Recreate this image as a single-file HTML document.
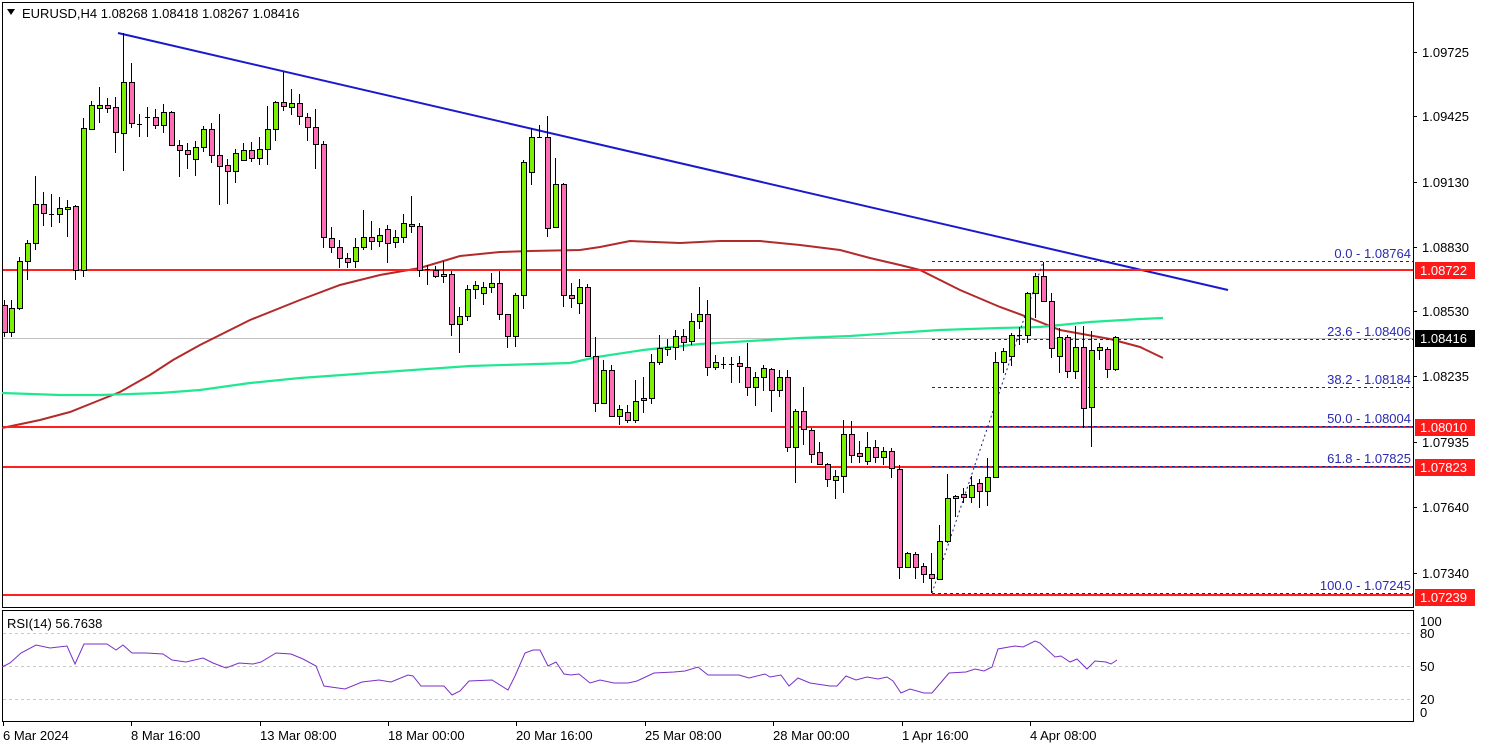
<!DOCTYPE html>
<html><head><meta charset="utf-8"><style>
html,body{margin:0;padding:0;background:#fff;}
svg{display:block;font-family:"Liberation Sans",Tahoma,sans-serif;}
</style></head><body>
<svg id="s" width="1485" height="749" xmlns="http://www.w3.org/2000/svg">
<rect x="0" y="0" width="1485" height="749" fill="#fff"/>
<!-- main frame -->
<rect x="2.5" y="2.5" width="1411" height="605" fill="none" stroke="#000" stroke-width="1"/>
<rect x="2.5" y="610.5" width="1411" height="111" fill="none" stroke="#000" stroke-width="1"/>
<!-- header -->
<polygon points="7,9 15,9 11,15" fill="#000"/>
<text x="22" y="18" font-size="13" fill="#000">EURUSD,H4  1.08268 1.08418 1.08267 1.08416</text>
<!-- current price gray line -->
<line x1="3" y1="338.5" x2="1413" y2="338.5" stroke="#c0c0c0" stroke-width="1"/>
<!-- MAs -->
<polyline fill="none" stroke="#b22a2a" stroke-width="2" points="2,428 40,420 70,412 100,400 120,392 150,375 173,360 200,345 250,320 300,300 340,285 380,275 420,268 460,256 500,252 530,251 580,250 600,247 630,241 680,243 720,241 760,241 800,245 840,250 870,258 900,265 920,270 960,290 1000,307 1030,318 1060,330 1110,339 1140,347 1163,358"/>
<polyline fill="none" stroke="#20e890" stroke-width="2.2" points="2,393 60,395 100,395 160,393 200,390 250,383 300,378 370,373 470,366 570,363 597,357 643,350 700,344 750,341 800,338 850,336 940,330 1000,328 1040,327 1090,322 1140,319 1163,318"/>
<!-- trend line -->
<line x1="118" y1="33" x2="1228" y2="290" stroke="#1a1acc" stroke-width="2"/>
<!-- horizontal red levels -->
<g stroke="#ff2020" stroke-width="2">
<line x1="3" y1="270" x2="1413" y2="270"/>
<line x1="3" y1="427" x2="1413" y2="427"/>
<line x1="3" y1="467" x2="1413" y2="467"/>
<line x1="3" y1="595" x2="1413" y2="595"/>
</g>
<!-- fib -->
<g stroke="#20208a" stroke-width="1" stroke-dasharray="3,3">
<line x1="932" y1="261.5" x2="1413" y2="261.5"/>
<line x1="932" y1="339.5" x2="1413" y2="339.5"/>
<line x1="932" y1="387.5" x2="1413" y2="387.5"/>
<line x1="932" y1="426.5" x2="1413" y2="426.5"/>
<line x1="932" y1="466.5" x2="1413" y2="466.5"/>
<line x1="932" y1="593.5" x2="1413" y2="593.5"/>
<line x1="932" y1="593" x2="1043" y2="262" stroke-dasharray="2,3"/>
</g>
<g font-size="13" fill="#2a2ab0" text-anchor="end">
<text x="1411" y="258">0.0 - 1.08764</text>
<text x="1411" y="336">23.6 - 1.08406</text>
<text x="1411" y="384">38.2 - 1.08184</text>
<text x="1411" y="423">50.0 - 1.08004</text>
<text x="1411" y="463">61.8 - 1.07825</text>
<text x="1411" y="590">100.0 - 1.07245</text>
</g>
<g id="candles"></g>
<!-- right axis -->
<g stroke="#000" stroke-width="1">
<line x1="1413" y1="52.5" x2="1417" y2="52.5"/><line x1="1413" y1="116.5" x2="1417" y2="116.5"/>
<line x1="1413" y1="182.5" x2="1417" y2="182.5"/><line x1="1413" y1="247.5" x2="1417" y2="247.5"/>
<line x1="1413" y1="311.5" x2="1417" y2="311.5"/><line x1="1413" y1="376.5" x2="1417" y2="376.5"/>
<line x1="1413" y1="442.5" x2="1417" y2="442.5"/><line x1="1413" y1="507.5" x2="1417" y2="507.5"/>
<line x1="1413" y1="573.5" x2="1417" y2="573.5"/>
</g>
<g font-size="13" fill="#000">
<text x="1422" y="57">1.09725</text><text x="1422" y="121">1.09425</text>
<text x="1422" y="187">1.09130</text><text x="1422" y="252">1.08830</text>
<text x="1422" y="316">1.08530</text><text x="1422" y="381">1.08235</text>
<text x="1422" y="447">1.07935</text><text x="1422" y="512">1.07640</text>
<text x="1422" y="578">1.07340</text>
</g>
<g font-size="13">
<rect x="1415" y="262" width="60" height="17" fill="#ff1a1a"/><text x="1420" y="275" fill="#fff">1.08722</text>
<rect x="1415" y="330" width="60" height="17" fill="#000"/><text x="1420" y="343" fill="#fff">1.08416</text>
<rect x="1415" y="419" width="60" height="17" fill="#ff1a1a"/><text x="1420" y="432" fill="#fff">1.08010</text>
<rect x="1415" y="459" width="60" height="17" fill="#ff1a1a"/><text x="1420" y="472" fill="#fff">1.07823</text>
<rect x="1415" y="589" width="60" height="17" fill="#ff1a1a"/><text x="1420" y="602" fill="#fff">1.07239</text>
</g>
<!-- RSI -->
<g stroke="#c8c8c8" stroke-width="1" stroke-dasharray="3,3">
<line x1="3" y1="633.5" x2="1413" y2="633.5"/>
<line x1="3" y1="666.5" x2="1413" y2="666.5"/>
<line x1="3" y1="699.5" x2="1413" y2="699.5"/>
</g>
<text x="7" y="628" font-size="13" fill="#000">RSI(14) 56.7638</text>
<g font-size="13" fill="#000">
<text x="1420" y="626">100</text><text x="1420" y="638">80</text>
<text x="1420" y="671">50</text><text x="1420" y="704">20</text><text x="1420" y="717">0</text>
</g>
<polyline fill="none" stroke="#7a30c8" stroke-width="1" points="2,667 10,663 21,653 36,645 50,648 67,646 75,664 84,644 107,644 116,650 123,645 132,653 146,653 163,654 172,660 186,662 203,658 213,663 226,668 239,663 253,664 261,662 276,653 291,654 303,659 316,666 324,686 345,689 362,682 379,680 391,682 408,675 413,676 421,686 437,686 444,686 452,695 460,691 469,681 492,680 508,690 515,676 525,653 533,650 540,650 548,666 556,662 564,674 571,675 579,674 590,683 600,680 614,683 628,683 637,681 654,673 674,672 685,671 698,667 708,675 739,675 749,678 765,674 770,677 781,675 789,686 798,678 810,683 830,686 837,686 846,676 856,680 867,677 878,679 887,677 893,681 901,693 910,689 924,693 932,693 949,673 966,672 975,669 984,671 992,667 998,649 1009,647 1015,646 1023,647 1035,641 1040,643 1055,657 1061,656 1070,662 1077,659 1087,669 1095,661 1106,662 1111,664 1117,660"/>
<!-- time axis -->
<g stroke="#000" stroke-width="1">
<line x1="3.5" y1="722" x2="3.5" y2="726"/><line x1="131.5" y1="722" x2="131.5" y2="726"/>
<line x1="260.5" y1="722" x2="260.5" y2="726"/><line x1="388.5" y1="722" x2="388.5" y2="726"/>
<line x1="516.5" y1="722" x2="516.5" y2="726"/><line x1="645.5" y1="722" x2="645.5" y2="726"/>
<line x1="773.5" y1="722" x2="773.5" y2="726"/><line x1="902.5" y1="722" x2="902.5" y2="726"/>
<line x1="1030.5" y1="722" x2="1030.5" y2="726"/>
</g>
<g font-size="13" fill="#000">
<text x="3" y="740">6 Mar 2024</text><text x="131" y="740">8 Mar 16:00</text>
<text x="260" y="740">13 Mar 08:00</text><text x="388" y="740">18 Mar 00:00</text>
<text x="516" y="740">20 Mar 16:00</text><text x="645" y="740">25 Mar 08:00</text>
<text x="773" y="740">28 Mar 00:00</text><text x="902" y="740">1 Apr 16:00</text>
<text x="1030" y="740">4 Apr 08:00</text>
</g>
</svg>
<script>
var d=[[4,305,332,300,337],[11,332,308,300,337],[19,308,261,257,310],[27,261,243,240,280],[35,243,204,176,250],[43,204,213,192,226],[51,214,214,194,227],[59,214,208,197,223],[67,209,207,200,237],[75,206,270,205,280],[83,270,128,118,277],[91,129,105,101,130],[99,108,105,87,123],[107,105,108,98,113],[115,107,132,97,153],[123,133,82,33,171],[131,82,123,63,128],[139,124,124,114,137],[147,117,117,107,137],[155,117,125,109,129],[163,125,112,104,133],[171,112,145,111,146],[179,145,150,140,177],[187,150,154,143,169],[195,159,147,141,176],[203,147,129,126,152],[211,129,155,123,163],[219,155,166,114,205],[227,165,171,159,204],[235,171,153,149,183],[243,160,150,143,161],[251,150,158,142,162],[259,158,149,137,165],[267,149,129,106,165],[275,129,102,101,141],[283,102,106,72,111],[291,107,103,89,115],[299,103,116,94,125],[307,117,127,113,141],[315,127,144,109,169],[323,144,237,141,248],[331,238,247,227,253],[339,247,258,240,268],[347,258,262,253,268],[355,261,247,238,268],[363,247,237,210,250],[371,237,241,221,250],[379,241,235,228,247],[387,229,243,225,263],[395,242,237,230,248],[403,237,223,214,243],[411,224,226,196,233],[419,226,270,223,277],[427,269,269,265,285],[435,270,276,266,278],[443,276,274,261,283],[451,274,324,271,336],[459,324,316,307,353],[467,316,289,285,321],[475,289,285,281,299],[483,293,287,282,305],[491,287,283,273,293],[499,283,314,271,320],[507,314,336,314,348],[515,336,295,293,347],[523,295,162,160,309],[531,172,137,128,185],[539,137,137,125,138],[547,137,228,116,237],[555,227,184,158,228],[563,184,295,183,307],[571,295,298,283,308],[579,303,287,279,314],[587,287,356,284,357],[595,356,403,337,412],[603,403,370,360,404],[611,370,416,365,417],[619,416,409,405,425],[627,412,420,405,423],[635,420,401,380,423],[643,400,398,377,413],[651,398,362,354,404],[659,362,348,335,365],[667,349,347,339,356],[675,347,336,330,360],[683,336,342,329,351],[691,341,321,313,345],[699,321,314,287,329],[707,314,367,300,376],[715,367,362,355,370],[723,364,364,357,369],[731,364,364,357,383],[739,363,366,356,383],[747,367,387,343,396],[755,387,377,372,406],[763,377,368,365,391],[771,369,390,368,412],[779,390,377,370,397],[787,377,447,370,452],[795,447,411,409,483],[803,411,429,387,445],[811,430,454,428,463],[819,452,464,442,465],[827,464,479,463,487],[835,480,476,470,499],[843,476,434,420,493],[851,434,455,421,463],[859,453,456,441,463],[867,461,447,432,465],[875,447,457,440,463],[883,457,451,447,465],[891,451,468,448,478],[899,469,567,465,579],[907,567,553,552,567],[915,554,567,552,579],[923,566,574,563,583],[931,574,578,553,593],[939,579,541,525,580],[947,541,498,474,543],[955,498,496,495,517],[963,494,497,488,503],[971,497,485,476,503],[979,483,491,479,508],[987,491,477,458,506],[995,477,362,352,477],[1003,362,351,348,373],[1011,356,335,333,366],[1019,335,335,327,345],[1027,335,293,292,343],[1035,293,276,273,318],[1043,276,301,262,301],[1051,301,348,293,358],[1059,356,337,328,373],[1067,337,371,335,378],[1075,371,347,326,379],[1083,347,408,326,428],[1091,407,350,331,447],[1099,350,347,343,360],[1107,349,369,347,378],[1115,369,337,336,371]];
var h='';
d.forEach(function(c){var x=c[0],o=c[1],cl=c[2],hi=c[3],lo=c[4];
h+='<line x1="'+(x+.5)+'" y1="'+hi+'" x2="'+(x+.5)+'" y2="'+lo+'" stroke="#000" stroke-width="1"/>';
var t=Math.min(o,cl),b=Math.max(o,cl);
if(b-t<1){h+='<line x1="'+(x-2)+'" y1="'+(t+.5)+'" x2="'+(x+3)+'" y2="'+(t+.5)+'" stroke="#000" stroke-width="1"/>';}
else{h+='<rect x="'+(x-2)+'.5" y="'+t+'.5" width="5" height="'+(b-t)+'" fill="'+(cl<o?'#7cf000':'#ff6eb4')+'" stroke="#000" stroke-width="1"/>';}
});
document.getElementById('candles').innerHTML=h;
</script>
</body></html>
